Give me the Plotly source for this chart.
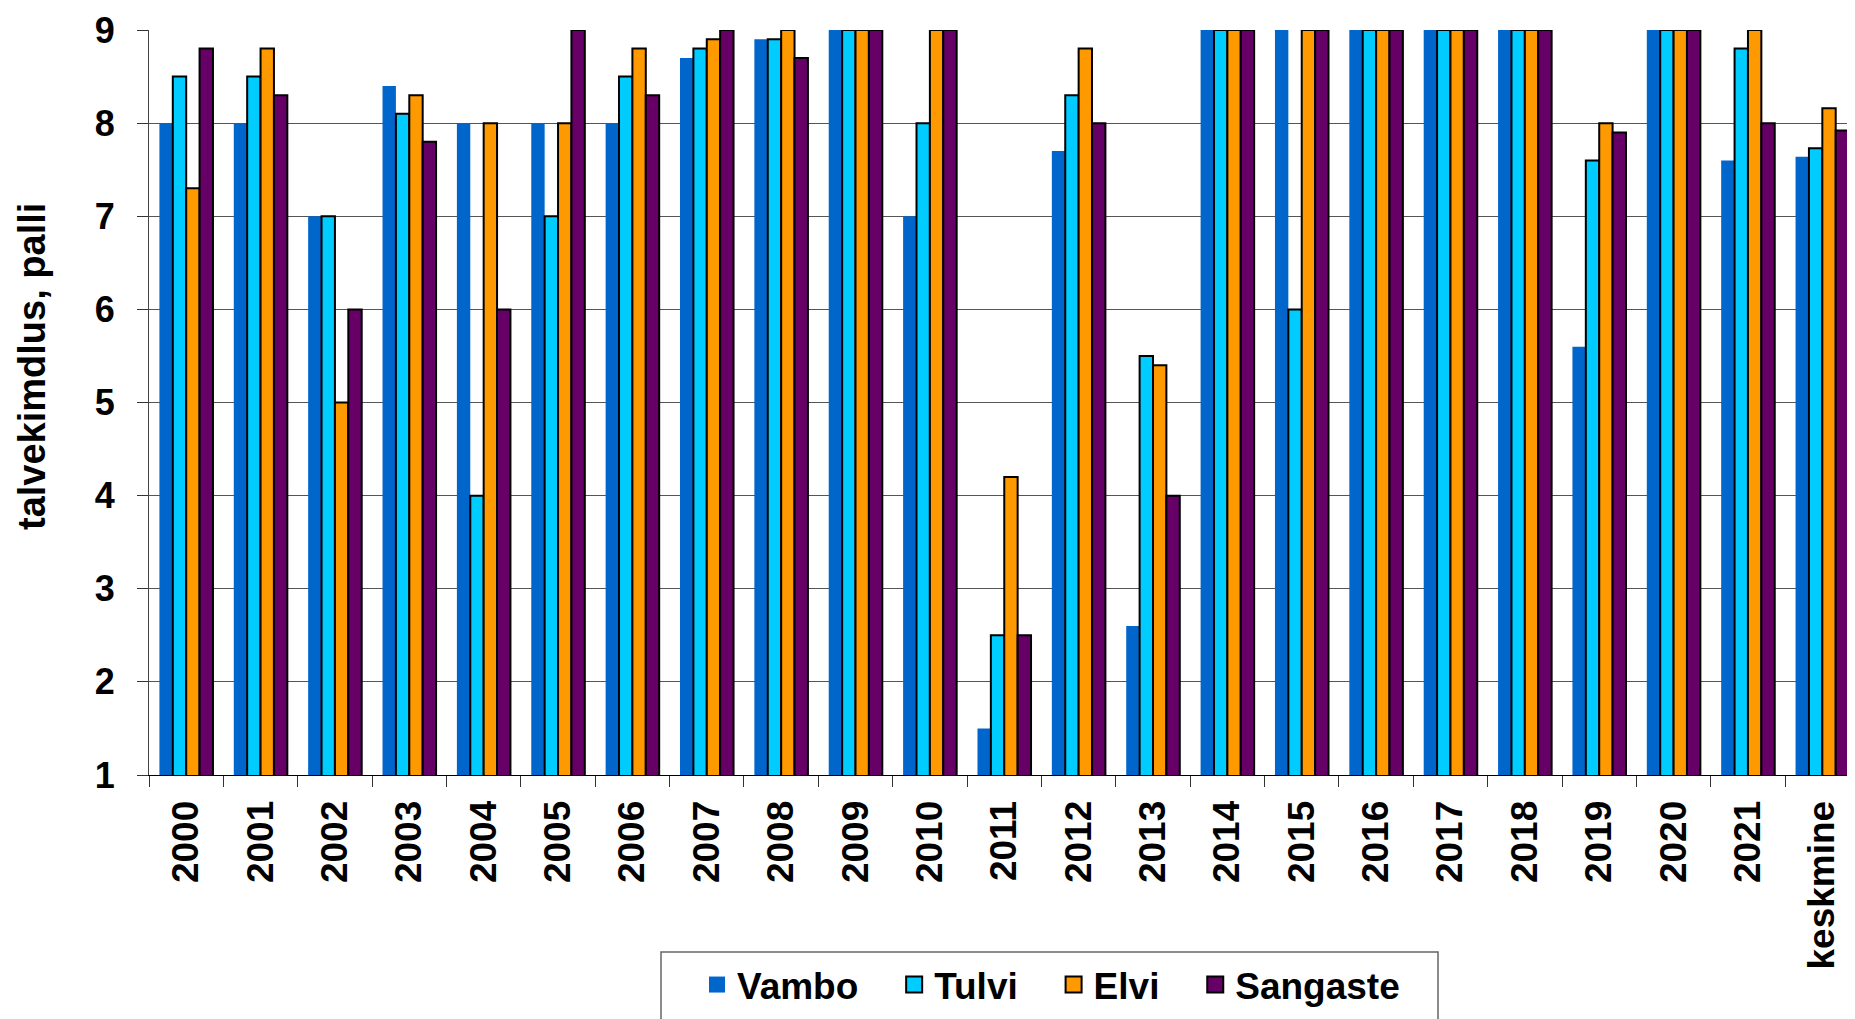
import plotly.graph_objects as go

categories = ["2000", "2001", "2002", "2003", "2004", "2005", "2006", "2007", "2008",
              "2009", "2010", "2011", "2012", "2013", "2014", "2015", "2016", "2017",
              "2018", "2019", "2020", "2021", "keskmine"]

vambo = [8, 8, 7, 8.4, 8, 8, 8, 8.7, 8.9, 9, 7, 1.5, 7.7, 2.6, 9, 9, 9, 9, 9, 5.6, 9, 7.6, 7.64]
tulvi = [8.5, 8.5, 7, 8.1, 4, 7, 8.5, 8.8, 8.9, 9, 8, 2.5, 8.3, 5.5, 9, 6, 9, 9, 9, 7.6, 9, 8.8, 7.73]
elvi = [7.3, 8.8, 5, 8.3, 8, 8, 8.8, 8.9, 9, 9, 9, 4.2, 8.8, 5.4, 9, 9, 9, 9, 9, 8, 9, 9, 8.16]
sangaste = [8.8, 8.3, 6, 7.8, 6, 9, 8.3, 9, 8.7, 9, 9, 2.5, 8, 4, 9, 9, 9, 9, 9, 7.9, 9, 8, 7.92]

series_names = ["Vambo", "Tulvi", "Elvi", "Sangaste"]
y_title = "talvekimdlus, palli"

FONT = "Liberation Sans, Arial, sans-serif"
OFF = 8  # browser body margin
W, H = 1855 - OFF, 1019 - OFF
ML, MR, MT, MB = 149 - OFF, 0, 30 - OFF, 1019 - 775
PW = W - ML - MR
PH = H - MT - MB

def px_x(p):  # page pixel -> paper x
    return (p - OFF - ML) / PW

def px_y(p):  # page pixel -> paper y
    return (H - MB - (p - OFF)) / PH

colors = ["#0066CC", "#00CCFF", "#FF9900", "#660066"]
line_w = [0, 2, 2, 2]

nbsp = "\u00a0"
legend_names = [series_names[0] + nbsp * 3, series_names[1] + nbsp * 3,
                series_names[2] + nbsp * 3, series_names[3]]

fig = go.Figure()
for vals, c, lw in zip([vambo, tulvi, elvi, sangaste], colors, line_w):
    fig.add_trace(go.Bar(x=categories, y=vals, showlegend=False,
                         marker=dict(color=c, line=dict(width=lw, color="#000000" if lw else c))))
for name, c, lw in zip(legend_names, colors, line_w):
    fig.add_trace(go.Scatter(x=[None], y=[None], mode="markers", name=name,
                             marker=dict(symbol="square", size=16, color=c,
                                         line=dict(width=lw, color="#000000" if lw else c))))

fig.update_layout(
    width=W, height=H,
    margin=dict(l=ML, r=MR, t=MT, b=MB, autoexpand=False),
    paper_bgcolor="white", plot_bgcolor="white",
    barmode="group", bargap=0.28, bargroupgap=0,
    font=dict(family=FONT, size=36, color="black", weight="bold"),
    showlegend=True,
    legend=dict(orientation="h", x=px_x(1051), xanchor="center",
                y=px_y(985), yanchor="middle", itemsizing="trace",
                font=dict(family=FONT, size=37, color="black", weight="bold"),
                bgcolor="rgba(0,0,0,0)", borderwidth=0, itemclick=False),
    xaxis=dict(type="category", range=[-0.5, -0.5 + PW / 74.37],
               tickson="boundaries", ticks="outside", ticklen=11, tickwidth=1,
               tickcolor="#333", showline=True, linecolor="#000", linewidth=1,
               showgrid=False, tickangle=-90, ticklabelstandoff=10,
               tickfont=dict(family=FONT, size=37, color="black", weight="bold")),
    yaxis=dict(range=[1, 9], dtick=1, tick0=1, ticks="outside", ticklen=11,
               tickwidth=1, tickcolor="#333", showline=True, linecolor="#444",
               linewidth=1, showgrid=True, gridcolor="#555", gridwidth=1,
               zeroline=False, ticklabelstandoff=15, ticklabeloverflow="allow",
               tickfont=dict(family=FONT, size=36, color="black", weight="bold")),
    shapes=[dict(type="rect", xref="paper", yref="paper",
                 x0=px_x(661), x1=px_x(1438), y0=px_y(952), y1=px_y(1040),
                 line=dict(color="#666", width=1.5), fillcolor="rgba(0,0,0,0)",
                 layer="below")],
    annotations=[dict(text=y_title, textangle=-90, xref="paper", yref="paper",
                      x=px_x(32), y=px_y(367), xanchor="center", yanchor="middle",
                      showarrow=False,
                      font=dict(family=FONT, size=38, color="black", weight="bold"))],
)

fig.write_html("out.html")
